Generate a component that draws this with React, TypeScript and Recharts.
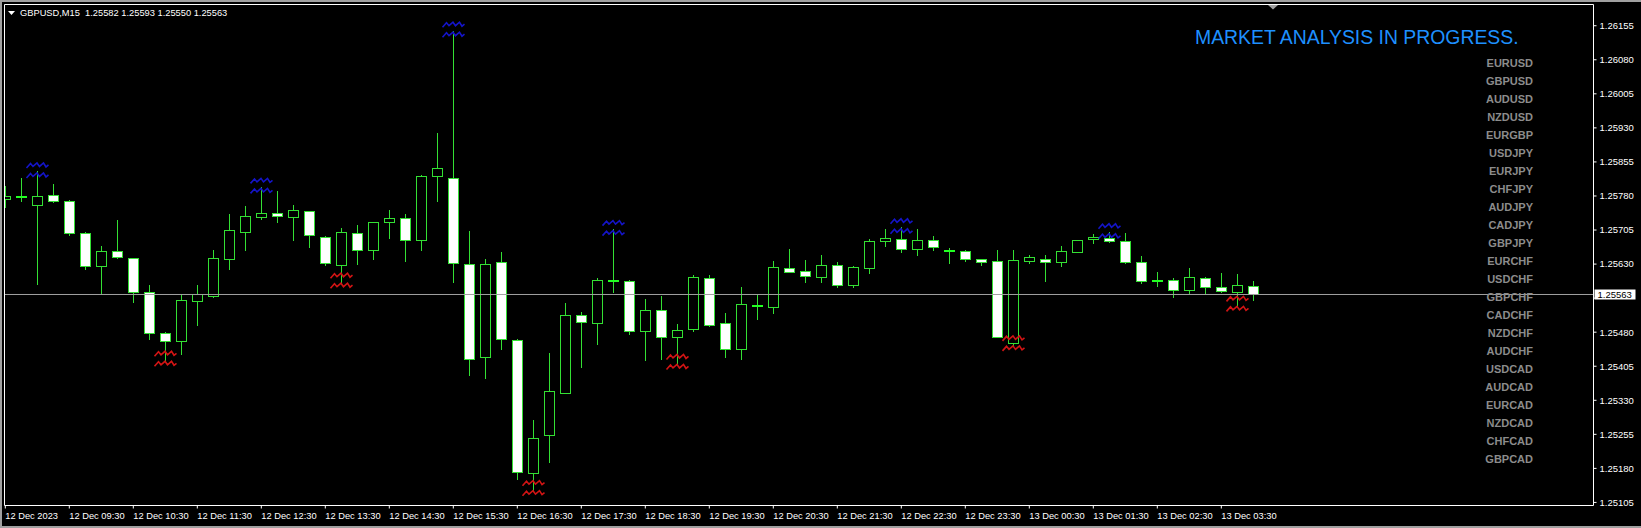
import React from 'react';
import { ComposedChart, Bar, Scatter, XAxis, YAxis, ReferenceLine } from 'recharts';

// GBPUSD M15, one entry per bar (bar 0 = 12 Dec 08:30)
const opens = [
  1.25774, 1.25778, 1.25761, 1.25782, 1.25768, 1.25698, 1.25626, 1.25658, 1.25643, 1.25569,
  1.25478, 1.25461, 1.25549, 1.25560, 1.25642, 1.25701, 1.25734, 1.25743, 1.25734, 1.25746,
  1.25690, 1.25629, 1.25699, 1.25660, 1.25722, 1.25731, 1.25682, 1.25823, 1.25819, 1.25630,
  1.25426, 1.25634, 1.25462, 1.25169, 1.25253, 1.25347, 1.25517, 1.25500, 1.25593, 1.25592,
  1.25482, 1.25528, 1.25469, 1.25486, 1.25599, 1.25500, 1.25442, 1.25538, 1.25535, 1.25622,
  1.25614, 1.25602, 1.25627, 1.25585, 1.25622, 1.25680, 1.25686, 1.25663, 1.25682, 1.25659,
  1.25658, 1.25641, 1.25636, 1.25457, 1.25637, 1.25642, 1.25635, 1.25657, 1.25685, 1.25688,
  1.25680, 1.25634, 1.25593, 1.25594, 1.25574, 1.25599, 1.25579, 1.25569, 1.25582
];
const highs = [
  1.25802, 1.25819, 1.25834, 1.25806, 1.25771, 1.25701, 1.25670, 1.25727, 1.25644, 1.25583,
  1.25480, 1.25563, 1.25583, 1.25661, 1.25740, 1.25758, 1.25800, 1.25791, 1.25760, 1.25747,
  1.25691, 1.25710, 1.25715, 1.25723, 1.25749, 1.25740, 1.25826, 1.25919, 1.26144, 1.25703,
  1.25641, 1.25657, 1.25464, 1.25287, 1.25434, 1.25544, 1.25525, 1.25599, 1.25707, 1.25596,
  1.25553, 1.25560, 1.25498, 1.25605, 1.25605, 1.25522, 1.25579, 1.25563, 1.25637, 1.25663,
  1.25639, 1.25650, 1.25635, 1.25626, 1.25685, 1.25707, 1.25711, 1.25707, 1.25692, 1.25666,
  1.25661, 1.25642, 1.25661, 1.25661, 1.25650, 1.25650, 1.25670, 1.25683, 1.25696, 1.25700,
  1.25698, 1.25648, 1.25613, 1.25599, 1.25621, 1.25601, 1.25610, 1.25608, 1.25593
];
const lows = [
  1.25756, 1.25769, 1.25586, 1.25767, 1.25693, 1.25620, 1.25563, 1.25644, 1.25546, 1.25466,
  1.25417, 1.25433, 1.25496, 1.25558, 1.25620, 1.25660, 1.25730, 1.25723, 1.25682, 1.25668,
  1.25629, 1.25589, 1.25631, 1.25642, 1.25688, 1.25637, 1.25662, 1.25770, 1.25591, 1.25386,
  1.25378, 1.25444, 1.25157, 1.25132, 1.25193, 1.25347, 1.25404, 1.25455, 1.25569, 1.25475,
  1.25419, 1.25422, 1.25410, 1.25483, 1.25494, 1.25425, 1.25422, 1.25508, 1.25523, 1.25612,
  1.25591, 1.25591, 1.25580, 1.25580, 1.25610, 1.25670, 1.25657, 1.25651, 1.25660, 1.25633,
  1.25637, 1.25629, 1.25470, 1.25451, 1.25633, 1.25593, 1.25626, 1.25656, 1.25677, 1.25679,
  1.25633, 1.25589, 1.25582, 1.25558, 1.25564, 1.25564, 1.25569, 1.25538, 1.25550
];
const closes = [
  1.25780, 1.25778, 1.25779, 1.25770, 1.25699, 1.25626, 1.25658, 1.25645, 1.25569, 1.25479,
  1.25460, 1.25550, 1.25563, 1.25643, 1.25704, 1.25737, 1.25742, 1.25737, 1.25749, 1.25693,
  1.25632, 1.25700, 1.25660, 1.25722, 1.25731, 1.25682, 1.25823, 1.25841, 1.25632, 1.25422,
  1.25630, 1.25464, 1.25171, 1.25246, 1.25350, 1.25517, 1.25502, 1.25594, 1.25593, 1.25482,
  1.25528, 1.25469, 1.25484, 1.25601, 1.25496, 1.25444, 1.25541, 1.25538, 1.25623, 1.25612,
  1.25603, 1.25627, 1.25585, 1.25623, 1.25680, 1.25687, 1.25663, 1.25682, 1.25667, 1.25659,
  1.25641, 1.25635, 1.25470, 1.25639, 1.25645, 1.25635, 1.25658, 1.25682, 1.25689, 1.25680,
  1.25634, 1.25593, 1.25593, 1.25574, 1.25601, 1.25579, 1.25570, 1.25583, 1.25563
];

const timeLabels = [
  '12 Dec 2023', '12 Dec 09:30', '12 Dec 10:30', '12 Dec 11:30', '12 Dec 12:30',
  '12 Dec 13:30', '12 Dec 14:30', '12 Dec 15:30', '12 Dec 16:30', '12 Dec 17:30',
  '12 Dec 18:30', '12 Dec 19:30', '12 Dec 20:30', '12 Dec 21:30', '12 Dec 22:30',
  '12 Dec 23:30', '13 Dec 00:30', '13 Dec 01:30', '13 Dec 02:30', '13 Dec 03:30'
];
const barsPerLabel = 4;

const priceTicks = [
  1.25105, 1.25180, 1.25255, 1.25330, 1.25405, 1.25480, 1.25555, 1.25630,
  1.25705, 1.25780, 1.25855, 1.25930, 1.26005, 1.26080, 1.26155
];
const yDomain = [1.2509825, 1.2620175];
const xDomain = [-0.05, 99.2625];

const fractalUpBars = [2, 16, 28, 38, 56, 69];
const fractalDownBars = [10, 21, 33, 42, 63, 77];

const pairs = [
  'EURUSD', 'GBPUSD', 'AUDUSD', 'NZDUSD', 'EURGBP', 'USDJPY', 'EURJPY', 'CHFJPY',
  'AUDJPY', 'CADJPY', 'GBPJPY', 'EURCHF', 'USDCHF', 'GBPCHF', 'CADCHF', 'NZDCHF',
  'AUDCHF', 'USDCAD', 'AUDCAD', 'EURCAD', 'NZDCAD', 'CHFCAD', 'GBPCAD'
];

const candles = opens.map((open, i) => ({ i, open, high: highs[i], low: lows[i], close: closes[i] }));
const upMarks = fractalUpBars.map(i => ({ i, v: highs[i] }));
const downMarks = fractalDownBars.map(i => ({ i, v: lows[i] }));
const tickBars = timeLabels.map((_, n) => n * barsPerLabel);
const last = candles[candles.length - 1];

const GREEN = '#33e033';
const FONT = 'Liberation Sans, Arial, sans-serif';

const Candle = (props: any) => {
  const { x, y, width, height, payload } = props;
  const { open, close, high, low } = payload;
  const top = Math.min(y, y + height);
  const bottom = Math.max(y, y + height);
  const span = high - low || 1;
  const toY = (p: number) => top + ((high - p) / span) * (bottom - top);
  const cx = Math.round(x + width / 2) + 0.5;
  const yo = Math.round(toY(open)) + 0.5;
  const yc = Math.round(toY(close)) + 0.5;
  const wick = <line x1={cx} x2={cx} y1={Math.round(top)} y2={Math.round(bottom) + 1} stroke={GREEN} strokeWidth={1} />;
  if (open === close) {
    return <g>
        {wick}
        <rect x={cx - 5.5} y={yo - 1.5} width={11} height={2} fill="#22ff22" />
      </g>;
  }
  return <g>
      {wick}
      <rect x={cx - 5} y={Math.min(yo, yc)} width={10} height={Math.abs(yo - yc)} fill={open > close ? '#ffffff' : '#000000'} stroke={GREEN} strokeWidth={1} />
    </g>;
};

const zigzag = (cx: number, cy: number, color: string, key: string) => <path key={key} d={`M${cx - 11},${cy + 2.5} L${cx - 7},${cy - 2} L${cx - 4.5},${cy + 1} L${cx - 0.5},${cy - 2.5} L${cx + 2},${cy + 1} L${cx + 6},${cy - 2.5} L${cx + 8.5},${cy + 1.5} L${cx + 11},${cy - 0.5}`} fill="none" stroke={color} strokeWidth={1.6} />;

const UpFractal = (props: any) => {
  const cx = Math.round(props.cx) + 0.5;
  return <g>
      {zigzag(cx, props.cy - 6, '#1414c8', 'a')}
      {zigzag(cx, props.cy + 4, '#1414c8', 'b')}
    </g>;
};

const DownFractal = (props: any) => {
  const cx = Math.round(props.cx) + 0.5;
  return <g>
      {zigzag(cx, props.cy - 7, '#d21414', 'a')}
      {zigzag(cx, props.cy + 3, '#d21414', 'b')}
    </g>;
};

const TimeTick = ({ x, y, payload }: any) => <text x={x} y={y + 8} fill="#ffffff" fontSize={9.3} fontFamily={FONT} textAnchor="start">
    {timeLabels[Math.round(payload.value / barsPerLabel)]}
  </text>;

// the tick under the current price tag is covered by the tag, as in the terminal
const PriceTick = ({ x, y, payload }: any) => Math.abs(payload.value - last.close) < 0.0001 ? <g /> : <text x={x} y={y + 3.4} fill="#ffffff" fontSize={9.5} fontFamily={FONT} textAnchor="start">
    {payload.value.toFixed(5)}
  </text>;

const PriceTag = (props: any) => {
  const vb = props.viewBox || {};
  const right = vb.x + vb.width;
  return <g>
      <rect x={right + 1} y={vb.y - 5} width={41} height={10} fill="#ffffff" />
      <text x={right + 4} y={vb.y + 3.4} fill="#000000" fontSize={9.5} fontFamily={FONT}>
        {last.close.toFixed(5)}
      </text>
    </g>;
};

export default function App() {
  const header = `GBPUSD,M15  ${last.open.toFixed(5)} ${last.high.toFixed(5)} ${last.low.toFixed(5)} ${last.close.toFixed(5)}`;
  return <div style={{ position: 'relative', width: 1641, height: 528, background: '#000' }}>
      <style>{'body{margin:0;background:#000}'}</style>
      <ComposedChart width={1641} height={528} data={candles} margin={{ top: 4.5, left: 4.5, right: 0, bottom: 0 }}>
        <XAxis dataKey="i" type="number" domain={xDomain} allowDataOverflow ticks={tickBars} interval={0} height={22.5} axisLine={{ stroke: '#ffffff' }} tickLine={{ stroke: '#ffffff' }} tickSize={3} tickMargin={2} tick={<TimeTick />} />
        <YAxis orientation="right" type="number" domain={yDomain} allowDataOverflow ticks={priceTicks} interval={0} width={47.5} axisLine={{ stroke: '#ffffff' }} tickLine={{ stroke: '#ffffff' }} tickSize={3} tickMargin={3} tick={<PriceTick />} />
        <ReferenceLine y={last.close} stroke="#a0a0a0" strokeWidth={1} label={<PriceTag />} />
        <Bar dataKey={(d: any) => [d.low, d.high]} barSize={10} shape={<Candle />} isAnimationActive={false} />
        <Scatter data={upMarks} dataKey="v" shape={<UpFractal />} isAnimationActive={false} />
        <Scatter data={downMarks} dataKey="v" shape={<DownFractal />} isAnimationActive={false} />
      </ComposedChart>
      <svg width={1641} height={528} style={{ position: 'absolute', left: 0, top: 0, pointerEvents: 'none' }}>
        <rect x={0} y={0} width={1641} height={2} fill="#a0a0a0" />
        <rect x={0} y={0} width={2} height={528} fill="#a0a0a0" />
        <rect x={0} y={526} width={1641} height={2} fill="#a0a0a0" />
        <line x1={4.5} y1={4.5} x2={1593.5} y2={4.5} stroke="#ffffff" />
        <line x1={4.5} y1={4.5} x2={4.5} y2={505.5} stroke="#ffffff" />
        <polygon points="8,11 15,11 11.5,15" fill="#ffffff" />
        <text x={20} y={16} fill="#ffffff" fontSize={9.3} fontFamily={FONT} style={{ whiteSpace: 'pre' }}>{header}</text>
        <polygon points="1268,5 1278,5 1273,9.5" fill="#a0a0a0" />
        <text x={1195} y={43.5} fill="#1e90ff" fontSize={19.4} fontFamily={FONT}>MARKET ANALYSIS IN PROGRESS.</text>
        {pairs.map((p, n) => <text key={p} x={1533} y={67 + n * 18} fill="#8c8c8c" fontSize={11} fontWeight="bold" fontFamily={FONT} textAnchor="end">{p}</text>)}
      </svg>
    </div>;
}
